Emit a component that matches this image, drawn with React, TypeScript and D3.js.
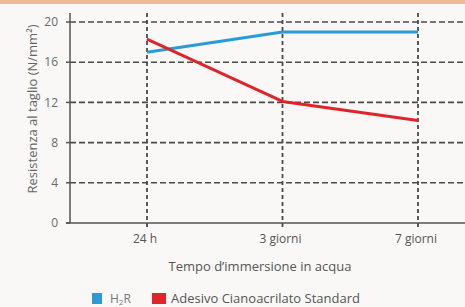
import React from 'react'
import * as d3 from 'd3'

const CATEGORIES = ['24 h', '3 giorni', '7 giorni']
const H2R = [17.0, 19.0, 19.0]
const STANDARD = [18.3, 12.1, 10.2]
const Y_TICKS = [0, 4, 8, 12, 16, 20]

const W = 465
const H = 307
const FONT = '"Open Sans", "Noto Sans", sans-serif'

export default function App() {
  const x = d3.scalePoint<string>().domain(CATEGORIES).range([147, 418])
  const y = d3.scaleLinear().domain([0, 20]).range([223, 22])
  const axisX = 70
  const top = 13

  const line = d3
    .line<number>()
    .x((_, i) => x(CATEGORIES[i]) as number)
    .y((d) => y(d))

  return (
    <svg width={W} height={H} style={{ position: 'absolute', left: 0, top: 0 }} fontFamily={FONT}>
      <rect x={0} y={0} width={W} height={H} fill="#f9f8f7" />
      <rect x={0} y={0} width={W} height={4} fill="#f1b896" />

      {/* horizontal grid */}
      {Y_TICKS.filter((t) => t > 0).map((t) => (
        <line key={t} x1={axisX} x2={W} y1={y(t)} y2={y(t)} stroke="#4a4a4a" strokeWidth={1.6} strokeDasharray="6 3" />
      ))}
      {/* vertical grid */}
      {CATEGORIES.map((c) => (
        <line key={c} x1={x(c)} x2={x(c)} y1={top} y2={228} stroke="#4a4a4a" strokeWidth={1.8} strokeDasharray="4 3" />
      ))}

      {/* axes */}
      <line x1={axisX} x2={axisX} y1={top} y2={y(0)} stroke="#555" strokeWidth={1.5} />
      <line x1={66} x2={W} y1={y(0)} y2={y(0)} stroke="#555" strokeWidth={1.5} />
      {Y_TICKS.map((t) => (
        <g key={t}>
          <line x1={66} x2={axisX} y1={y(t)} y2={y(t)} stroke="#555" strokeWidth={1.5} />
          <text x={58} y={y(t)} dy="0.35em" textAnchor="end" fontSize={12} fill="#6a6a6a">{t}</text>
        </g>
      ))}
      {CATEGORIES.map((c) => (
        <text key={c} x={(x(c) as number) - 2} y={243} textAnchor="middle" fontSize={12} fill="#555">{c}</text>
      ))}

      <text transform={`translate(37,109) rotate(-90)`} textAnchor="middle" fontSize={13} fill="#666">
        Resistenza al taglio (N/mm²)
      </text>
      <text x={260} y={271} textAnchor="middle" fontSize={13} fill="#555">Tempo d’immersione in acqua</text>

      {/* series */}
      <path d={line(H2R) ?? ''} fill="none" stroke="#2a9bd6" strokeWidth={3} strokeLinejoin="round" />
      <path d={line(STANDARD) ?? ''} fill="none" stroke="#e1232a" strokeWidth={3} strokeLinejoin="round" />

      {/* legend */}
      <rect x={92} y={293} width={10} height={11} fill="#2a9bd6" />
      <text x={110} y={303} fontSize={12} fill="#777">H<tspan fontSize={8} dy={2}>2</tspan><tspan dy={-2}>R</tspan></text>
      <rect x={152} y={293} width={14} height={11} fill="#e1232a" />
      <text x={171} y={303} fontSize={13} fill="#555">Adesivo Cianoacrilato Standard</text>
    </svg>
  )
}
